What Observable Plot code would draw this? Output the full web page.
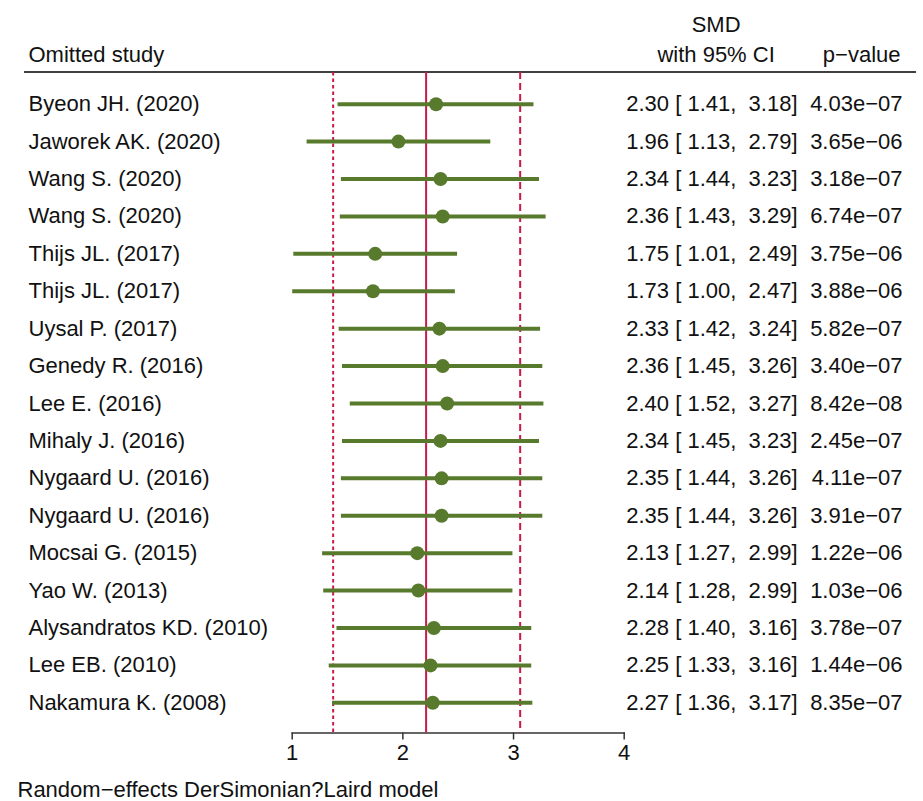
<!DOCTYPE html>
<html>
<head>
<meta charset="utf-8">
<script src="https://cdn.jsdelivr.net/npm/d3@7"></script>
<script src="https://cdn.jsdelivr.net/npm/@observablehq/plot@0.6"></script>
<style>
  html, body { margin: 0; padding: 0; background: #fff; }
  #chart svg { display: block; }
</style>
</head>
<body>
<div id="chart"></div>
<script>
// ---- data ----
const studies = [
  "Byeon JH. (2020)", "Jaworek AK. (2020)", "Wang S. (2020)", "Wang S. (2020)",
  "Thijs JL. (2017)", "Thijs JL. (2017)", "Uysal P. (2017)", "Genedy R. (2016)",
  "Lee E. (2016)", "Mihaly J. (2016)", "Nygaard U. (2016)", "Nygaard U. (2016)",
  "Mocsai G. (2015)", "Yao W. (2013)", "Alysandratos KD. (2010)", "Lee EB. (2010)",
  "Nakamura K. (2008)"
];
const smd   = [2.30, 1.96, 2.34, 2.36, 1.75, 1.73, 2.33, 2.36, 2.40, 2.34, 2.35, 2.35, 2.13, 2.14, 2.28, 2.25, 2.27];
const lower = [1.41, 1.13, 1.44, 1.43, 1.01, 1.00, 1.42, 1.45, 1.52, 1.45, 1.44, 1.44, 1.27, 1.28, 1.40, 1.33, 1.36];
const upper = [3.18, 2.79, 3.23, 3.29, 2.49, 2.47, 3.24, 3.26, 3.27, 3.23, 3.26, 3.26, 2.99, 2.99, 3.16, 3.16, 3.17];
const pvalues = ["4.03e−07", "3.65e−06", "3.18e−07", "6.74e−07", "3.75e−06", "3.88e−06", "5.82e−07", "3.40e−07",
  "8.42e−08", "2.45e−07", "4.11e−07", "3.91e−07", "1.22e−06", "1.03e−06", "3.78e−07", "1.44e−06", "8.35e−07"];
const overall = {est: 2.21, lo: 1.37, hi: 3.06};
const xTicks = [1, 2, 3, 4];
const headerStudy = "Omitted study";
const headerSMD = "SMD\nwith 95% CI";
const headerP = "p−value";
const captionText = "Random−effects DerSimonian?Laird model";

// ---- table ----
const rows = studies.map((s, i) => ({
  i, study: s, smd: smd[i], lo: lower[i], hi: upper[i], p: pvalues[i],
  label: `${smd[i].toFixed(2)} [ ${lower[i].toFixed(2)},\u00a0 ${upper[i].toFixed(2)}]`
}));

const green = "#587a2d";
const red = "#c91a4a";
const fontSize = 22;
const W = 923, H = 801;
const mL = 291.7, mR = W - 623.7, mT = 72, mB = H - 732.5;
const frameLeft = mL, frameRight = W - mR;

const headerLine = (index, scales, values, dims) => {
  const g = d3.create("svg:line")
    .attr("x1", 24).attr("x2", 916)
    .attr("y1", dims.marginTop).attr("y2", dims.marginTop)
    .attr("stroke", "#000").attr("stroke-width", 1.6);
  return g.node();
};

const chart = Plot.plot({
  width: W,
  height: H,
  marginLeft: mL,
  marginRight: mR,
  marginTop: mT,
  marginBottom: mB,
  style: {fontFamily: "'Liberation Sans', Arial, Helvetica, sans-serif", fontSize: fontSize + "px", color: "#111", background: "#fff"},
  x: {domain: [1, 4], ticks: xTicks, tickSize: 7, tickPadding: 4, tickFormat: d3.format("d"), label: null},
  y: {domain: [0, studies.length - 1], range: [103.7, 702.3], axis: null},
  marks: [
    Plot.frame({anchor: "bottom", stroke: "#333", strokeWidth: 1.5}),
    Plot.axisX({ticks: xTicks, tickSize: 7, tickPadding: 4, tickFormat: d3.format("d"), label: null, stroke: "#333", strokeWidth: 1.5, fontSize: fontSize, fill: "#111"}),
    headerLine,
    Plot.ruleX([overall.lo], {stroke: red, strokeWidth: 2, strokeDasharray: "3.5,3"}),
    Plot.ruleX([overall.hi], {stroke: red, strokeWidth: 2, strokeDasharray: "7,4"}),
    Plot.ruleX([overall.est], {stroke: red, strokeWidth: 2}),
    Plot.link(rows, {x1: "lo", x2: "hi", y1: "i", y2: "i", stroke: green, strokeWidth: 4}),
    Plot.dot(rows, {x: "smd", y: "i", r: 7, fill: green, stroke: null}),
    Plot.text(rows, {y: "i", text: "study", frameAnchor: "left", dx: 28 - frameLeft, textAnchor: "start", lineAnchor: "middle", fontSize, fill: "#111"}),
    Plot.text(rows, {y: "i", text: "label", frameAnchor: "right", dx: 797 - frameRight, textAnchor: "end", lineAnchor: "middle", fontSize, fill: "#111"}),
    Plot.text(rows, {y: "i", text: "p", frameAnchor: "right", dx: 902 - frameRight, textAnchor: "end", lineAnchor: "middle", fontSize, fill: "#111"}),
    Plot.text([headerStudy], {frameAnchor: "top-left", dx: 28 - frameLeft, dy: -10.5, textAnchor: "start", lineAnchor: "bottom", fontSize, fill: "#111"}),
    Plot.text([headerSMD], {frameAnchor: "top-right", dx: 715.6 - frameRight, dy: -10.5, textAnchor: "middle", lineAnchor: "bottom", lineHeight: 1.355, fontSize, fill: "#111"}),
    Plot.text([headerP], {frameAnchor: "top-right", dx: 900 - frameRight, dy: -10.5, textAnchor: "end", lineAnchor: "bottom", fontSize, fill: "#111"}),
    Plot.text([captionText], {frameAnchor: "bottom-left", dx: 17 - frameLeft, dy: H - 5 - (H - mB), textAnchor: "start", lineAnchor: "bottom", fontSize, fill: "#111"})
  ]
});
document.getElementById("chart").appendChild(chart);
</script>
</body>
</html>
